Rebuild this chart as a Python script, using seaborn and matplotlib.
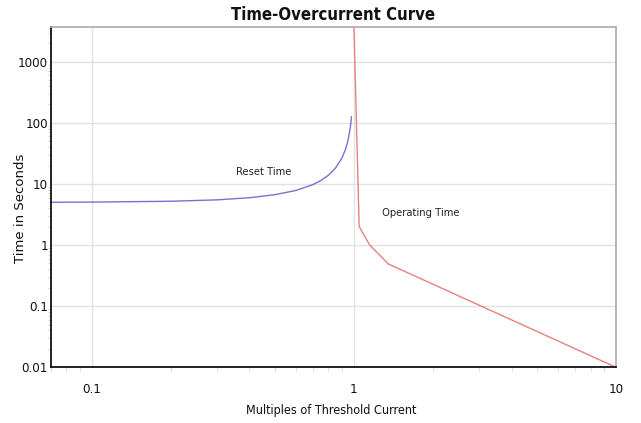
import matplotlib
matplotlib.use("Agg")
import matplotlib.pyplot as plt
import matplotlib.ticker as mticker
import seaborn as sns
import pandas as pd

# Reset time curve
reset_x = [0.07, 0.1, 0.2, 0.3, 0.4, 0.5, 0.6, 0.7, 0.75, 0.8, 0.85, 0.9, 0.93, 0.95, 0.97, 0.98]
reset_y = [5.02, 5.05, 5.21, 5.49, 5.95, 6.67, 7.81, 9.80, 11.43, 13.89, 18.02, 26.32, 37.0, 51.3, 84.6, 126.3]

# Operating time curve
oper_x = [0.995, 1.048, 1.15, 1.355, 10.0]
oper_y = [10000, 2.0, 1.0, 0.49, 0.01]

x_ticks = [0.1, 1, 10]
x_tick_labels = ["0.1", "1", "10"]
y_ticks = [0.01, 0.1, 1, 10, 100, 1000]
y_tick_labels = ["0.01", "0.1", "1", "10", "100", "1000"]

sns.set_theme(style="white")
plt.rcParams["font.family"] = ["DejaVu Sans"]
cond = dict(family="DejaVu Sans", stretch="condensed")

fig = plt.figure(figsize=(6.41, 4.23), dpi=100)
ax = fig.add_axes([0.0791, 0.1317, 0.961 - 0.0791, 0.9369 - 0.1317])

reset_df = pd.DataFrame({"x": reset_x, "y": reset_y})
oper_df = pd.DataFrame({"x": oper_x, "y": oper_y})

ax.set_xscale("log")
ax.set_yscale("log")
sns.lineplot(data=reset_df, x="x", y="y", ax=ax, color="#7474cc", lw=1.0, sort=False)
sns.lineplot(data=oper_df, x="x", y="y", ax=ax, color="#e88080", lw=1.0, sort=False)

ax.set_xlim(0.0698, 10)
ax.set_ylim(0.01, 3745)

ax.set_xticks(x_ticks)
ax.set_xticklabels(x_tick_labels, fontsize=9.5, **cond)
ax.set_yticks(y_ticks)
ax.set_yticklabels(y_tick_labels, fontsize=9.5, **cond)
ax.xaxis.set_minor_locator(mticker.LogLocator(base=10, subs=range(2, 10)))
ax.xaxis.set_minor_formatter(mticker.NullFormatter())
ax.yaxis.set_minor_locator(mticker.LogLocator(base=10, subs=range(2, 10)))
ax.yaxis.set_minor_formatter(mticker.NullFormatter())

ax.grid(True, which="major", color="#e2e2e2", lw=1.0)
ax.tick_params(axis="both", which="major", length=0, colors="#111111")
ax.tick_params(axis="x", which="major", pad=11)
ax.tick_params(axis="y", which="major", pad=2)
ax.tick_params(axis="x", which="minor", bottom=True, length=3, color="#dddddd", width=0.8)
ax.tick_params(axis="y", which="minor", left=True, length=2, color="#cccccc", width=0.6)

for side in ["top", "right"]:
    ax.spines[side].set_color("#aaaaaa")
    ax.spines[side].set_linewidth(1.2)
for side in ["left", "bottom"]:
    ax.spines[side].set_color("#111111")
    ax.spines[side].set_linewidth(1.3)

ax.set_xlabel("Multiples of Threshold Current", fontsize=9, color="#111111", **cond)
ax.xaxis.set_label_coords(0.497, -0.127)
ax.xaxis.label.set_va("center")
ax.set_ylabel("Time in Seconds", fontsize=9.5, family="DejaVu Sans", color="#111111")
ax.yaxis.set_label_coords(-0.054, 0.468)
ax.yaxis.label.set_va("center")
ax.set_title("Time-Overcurrent Curve", fontsize=12, fontweight="bold", pad=5, color="#111111", **cond)

ax.text(0.452, 15.8, "Reset Time", fontsize=8, ha="center", va="center", color="#222222", **cond)
ax.text(1.80, 3.38, "Operating Time", fontsize=8, ha="center", va="center", color="#222222", **cond)

fig.savefig("out.png", dpi=100, facecolor="white")
